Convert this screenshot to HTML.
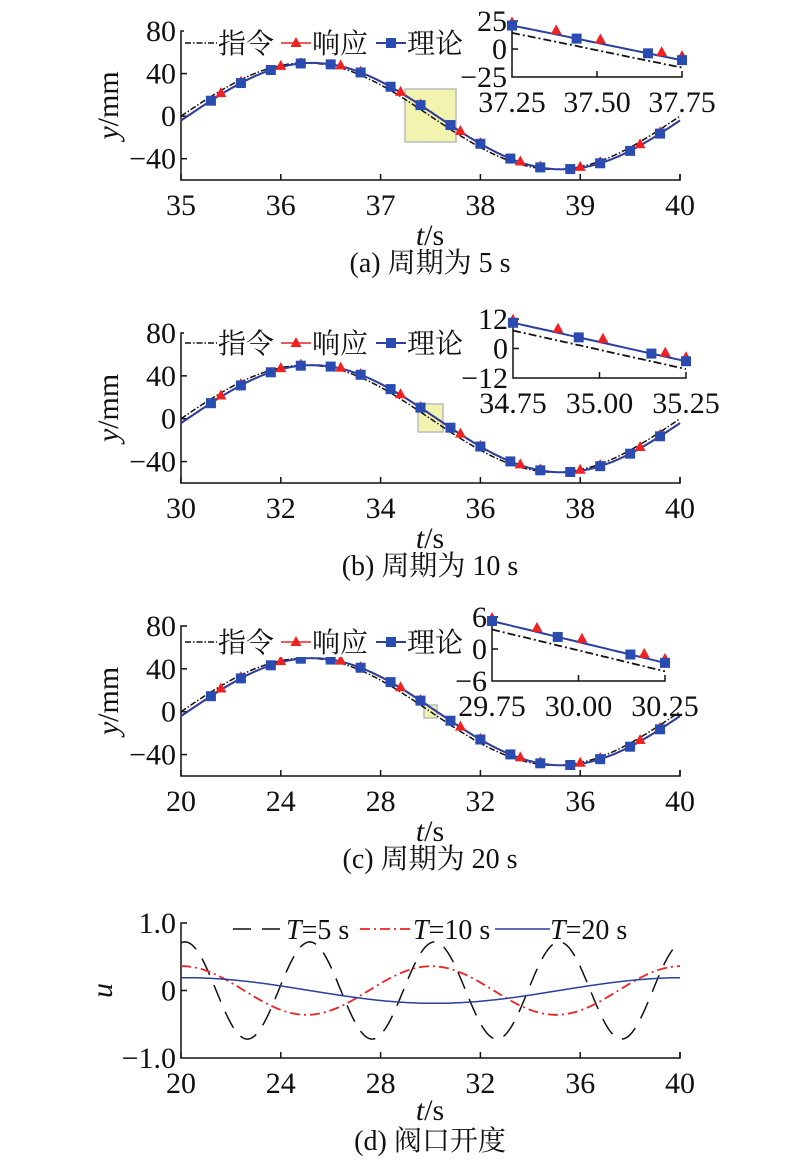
<!DOCTYPE html>
<html><head><meta charset="utf-8">
<style>
html,body{margin:0;padding:0;background:#fff;}
svg text{font-family:"Liberation Serif","Noto Serif CJK SC",serif;fill:#111;}
</style></head>
<body>
<svg id="s" width="800" height="1163" xmlns="http://www.w3.org/2000/svg"></svg>
<script>
const S=document.getElementById('s');let h='';
function T(x,y,t,o){o=o||{};h+=`<text x="${x}" y="${y}" font-size="${o.fs||30}" text-anchor="${o.a||'middle'}" ${o.tr?'transform="'+o.tr+'"':''}>${t}</text>`;}
function path(pts,st){h+=`<path d="M${pts.map(p=>p[0].toFixed(1)+' '+p[1].toFixed(1)).join('L')}" fill="none" ${st}/>`;}
const CMD='stroke="#111" stroke-width="1.5" stroke-dasharray="6 2 1.5 2"';
const RSP='stroke="#e22" stroke-width="1.5"';
const THE='stroke="#2a3fa0" stroke-width="2"';
function tri(x,y){h+=`<path d="M${x} ${y-6}L${x+5.5} ${y+4}L${x-5.5} ${y+4}Z" fill="#e22"/>`;}
function sq(x,y){h+=`<rect x="${x-5}" y="${y-5}" width="10" height="10" fill="#2a4bb0"/>`;}
function panel(o){
 const L=181,R=680;
 const X=t=>L+(t-o.t0)/(o.t1-o.t0)*(R-L);
 const Y=v=>o.top+(80-v)/140*(o.bot-o.top);
 const f=(t,lag)=>50*Math.sin(2*Math.PI*(t-o.t0-lag)/o.P);
 const lag=o.P*0.012;
 h+=`<path d="M${L+6} ${o.top}H${L}V${o.bot}H${R}V${o.bot-6}" fill="none" stroke="#111" stroke-width="1.5"/>`;
 [40,0,-40].forEach(v=>h+=`<line x1="${L}" x2="${L+6}" y1="${Y(v)}" y2="${Y(v)}" stroke="#111" stroke-width="1.5"/>`);
 [80,40,0,-40].forEach(v=>T(L-5,Y(v)+10,v<0?'−'+(-v):v,{a:'end'}));
 o.xt.forEach(t=>{h+=`<line x1="${X(t)}" x2="${X(t)}" y1="${o.bot}" y2="${o.bot-6}" stroke="#111" stroke-width="1.5"/>`;T(X(t),o.bot+35,t);});
 T(430,o.bot+65,'<tspan font-style="italic">t</tspan>/s');
 T(430,o.bot+92,o.cap,{fs:28});
 T(118,(o.top+o.bot)/2,'<tspan font-style="italic">y</tspan>/mm',{tr:`rotate(-90 118 ${(o.top+o.bot)/2})`});
 const b=o.box;h+=`<rect x="${b[0]}" y="${b[1]}" width="${b[2]}" height="${b[3]}" fill="#f3f3b0" stroke="#bbb" stroke-width="1.5"/>`;
 let c=[],r=[],th=[];
 for(let i=0;i<=300;i++){const t=o.t0+(o.t1-o.t0)*i/300;c.push([X(t),Y(f(t,0))]);r.push([X(t),Y(f(t,lag))]);th.push([X(t),Y(f(t,lag*1.1))]);}
 path(c,CMD);path(r,RSP);path(th,THE);
 const span=o.t1-o.t0;
 for(let t=o.t0+span*0.04;t<o.t1;t+=span*0.04){if(Math.abs((t-o.t0)/span*25%3-1)<0.1)continue;tri(X(t),Y(f(t,lag))-1);}
 for(let t=o.t0+span*0.06;t<=o.t1+1e-6;t+=span*0.06)sq(X(t),Y(f(t,lag*1.1)));
 const ly=o.legY;
 h+=`<rect x="${L+3}" y="${ly-15}" width="278" height="30" fill="#fff"/>`;
 h+=`<line x1="${L+4}" x2="${L+36}" y1="${ly}" y2="${ly}" ${CMD}/>`;T(L+37,ly+10,'指令',{a:'start',fs:28});
 h+=`<line x1="${L+100}" x2="${L+130}" y1="${ly}" y2="${ly}" ${RSP}/>`;tri(L+115,ly);T(L+131,ly+10,'响应',{a:'start',fs:28});
 h+=`<line x1="${L+195}" x2="${L+225}" y1="${ly}" y2="${ly}" ${THE}/>`;sq(L+210,ly);T(L+226,ly+10,'理论',{a:'start',fs:28});
 const I=o.ins;const iX=t=>I.l+(t-I.a)/(I.b-I.a)*(I.r-I.l);const iY=v=>I.t+(I.m-v)/(2*I.m)*(I.bt-I.t);
 h+=`<rect x="${I.l}" y="${I.t-6}" width="${I.r-I.l}" height="${I.bt-I.t+6}" fill="#fff"/>`;
 h+=`<path d="M${I.l+6} ${I.t}H${I.l}V${I.bt}H${I.r}V${I.bt-6}" fill="none" stroke="#111" stroke-width="1.5"/>`;
 h+=`<line x1="${I.l}" x2="${I.l+6}" y1="${iY(0)}" y2="${iY(0)}" stroke="#111" stroke-width="1.5"/>`;
 const mid=(I.a+I.b)/2;h+=`<line x1="${iX(mid)}" x2="${iX(mid)}" y1="${I.bt}" y2="${I.bt-6}" stroke="#111" stroke-width="1.5"/>`;
 [I.m,0,-I.m].forEach(v=>T(I.l-5,iY(v)+10,v<0?'−'+(-v):v,{a:'end'}));
 [I.a,mid,I.b].forEach(t=>T(iX(t),I.bt+35,t.toFixed(2)));
 const off=I.m*0.22;
 let ic=[],ir=[];
 for(let i=0;i<=40;i++){const t=I.a+(I.b-I.a)*i/40;ic.push([iX(t),iY(f(t,0)-off*0.2)]);ir.push([iX(t),iY(f(t,0)+off)]);}
 path(ic,'stroke="#111" stroke-width="1.8" stroke-dasharray="8 3 2 3"');path(ir,'stroke="#2a3fa0" stroke-width="2"');
 [0.26,0.52,0.88,1].forEach(k=>{const t=I.a+(I.b-I.a)*k;tri(iX(t),iY(f(t,0)+off)-4);});
 tri(iX(I.a),iY(f(I.a,0)+off)-3);
 [0,0.38,0.8,1].forEach(k=>{const t=I.a+(I.b-I.a)*k;sq(iX(t),iY(f(t,0)+off));});
}
panel({t0:35,t1:40,P:5,top:31,bot:180,xt:[35,36,37,38,39,40],cap:'(a) 周期为 5 s',legY:43,box:[405,89,51,53],
 ins:{l:512,r:682,t:21,bt:77,a:37.25,b:37.75,m:25}});
panel({t0:30,t1:40,P:10,top:333,bot:483,xt:[30,32,34,36,38,40],cap:'(b) 周期为 10 s',legY:343,box:[418,404,25,28],
 ins:{l:513,r:686,t:319,bt:378,a:34.75,b:35.25,m:12}});
panel({t0:20,t1:40,P:20,top:626,bot:776,xt:[20,24,28,32,36,40],cap:'(c) 周期为 20 s',legY:642,box:[424,705,13,13],
 ins:{l:492,r:665,t:617,bt:681,a:29.75,b:30.25,m:6}});
(function(){
 const L=181,R=680,top=923,bot=1058;const X=t=>L+(t-20)/20*(R-L);const Y=v=>top+(1-v)/2*(bot-top);
 h+=`<path d="M${L+6} ${top}H${L}V${bot}H${R}V${bot-6}" fill="none" stroke="#111" stroke-width="1.5"/>`;
 h+=`<line x1="${L}" x2="${L+6}" y1="${Y(0)}" y2="${Y(0)}" stroke="#111" stroke-width="1.5"/>`;
 T(L-5,top+10,'1.0',{a:'end'});T(L-5,Y(0)+10,'0',{a:'end'});T(L-5,bot+10,'−1.0',{a:'end'});
 [20,24,28,32,36,40].forEach(t=>{h+=`<line x1="${X(t)}" x2="${X(t)}" y1="${bot}" y2="${bot-6}" stroke="#111" stroke-width="1.5"/>`;T(X(t),bot+35,t);});
 T(430,bot+62,'<tspan font-style="italic">t</tspan>/s');T(430,bot+92,'(d) 阀口开度',{fs:28});
 T(110,Y(0)+2,'<tspan font-style="italic">u</tspan>',{tr:`rotate(-90 110 ${Y(0)})`});
 const mk=(A,P,ph)=>{let p=[];for(let i=0;i<=400;i++){const t=20+20*i/400;p.push([X(t),Y(A*Math.cos(2*Math.PI*(t-20)/P+ph))]);}return p;};
 path(mk(0.72,5,-0.2),'stroke="#111" stroke-width="1.5" stroke-dasharray="18 11"');
 path(mk(0.36,10,-0.02),'stroke="#e22" stroke-width="1.8" stroke-dasharray="10 4 2 4"');
 path(mk(0.19,20,-0.05),'stroke="#2a3fa0" stroke-width="1.5"');
 const ly=929;
 h+=`<line x1="233" x2="285" y1="${ly}" y2="${ly}" stroke="#111" stroke-width="1.5" stroke-dasharray="18 11"/>`;
 T(286,ly+10,'<tspan font-style="italic">T</tspan>=5 s',{a:'start',fs:28});
 h+=`<line x1="360" x2="412" y1="${ly}" y2="${ly}" stroke="#e22" stroke-width="1.8" stroke-dasharray="10 4 2 4"/>`;
 T(413,ly+10,'<tspan font-style="italic">T</tspan>=10 s',{a:'start',fs:28});
 h+=`<line x1="495" x2="550" y1="${ly}" y2="${ly}" stroke="#2a3fa0" stroke-width="1.5"/>`;
 T(550,ly+10,'<tspan font-style="italic">T</tspan>=20 s',{a:'start',fs:28});
})();
S.innerHTML=h;
</script>
</body></html>
